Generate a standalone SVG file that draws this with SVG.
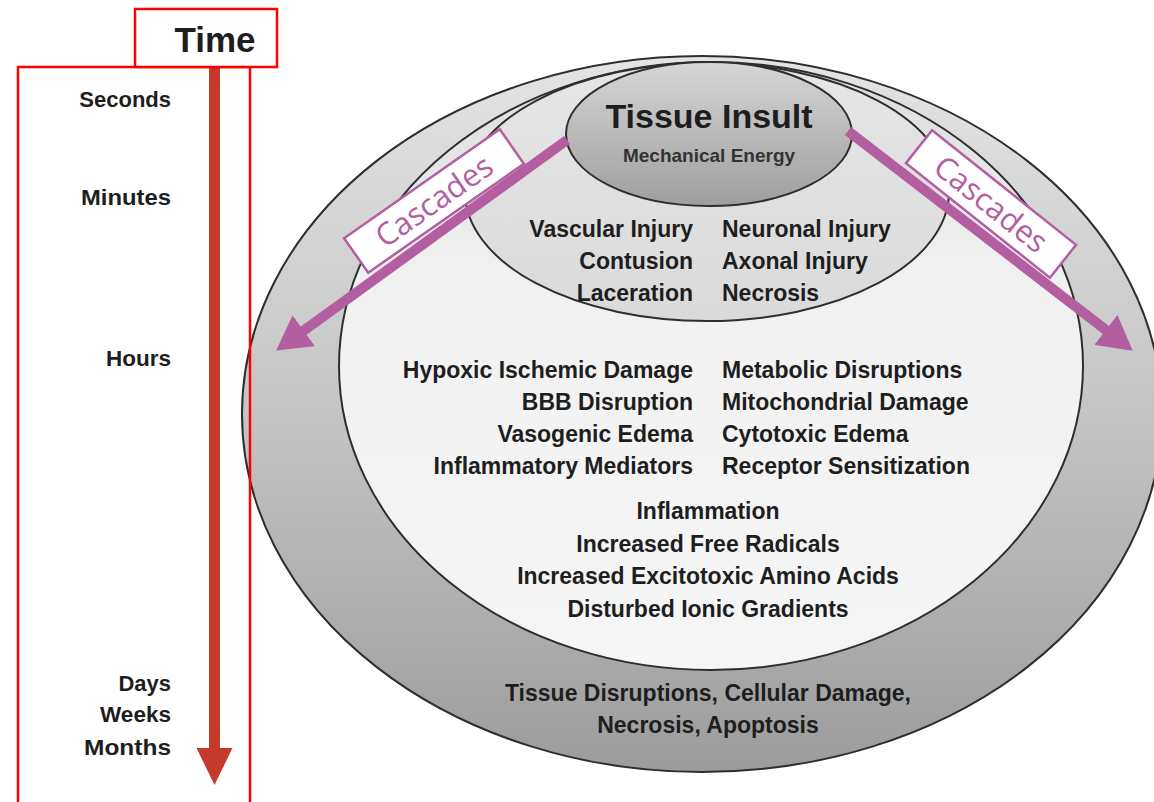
<svg xmlns="http://www.w3.org/2000/svg" width="1154" height="802" viewBox="0 0 1154 802">
<style>
.ring{stroke:#2e2e2e;stroke-width:2}
.t{font-family:"Liberation Sans",Arial,sans-serif;font-weight:bold;font-size:23px;fill:#1e1e1e}
.tl{font-family:"Liberation Sans",Arial,sans-serif;font-weight:bold;font-size:22px;fill:#1e1e1e;text-anchor:end}
.end{text-anchor:end}
.mid{text-anchor:middle}
.red{fill:none;stroke:#ff0000;stroke-width:2.5}
.casc{stroke:#b35ea0;stroke-width:10;fill:none}
.cbox{fill:#ffffff;stroke:#b35ea0;stroke-width:2.5}
.ctext{font-family:"Open Sans","Liberation Sans",sans-serif;font-size:31px;fill:#b35ea0;text-anchor:middle}
</style>
<defs>
<linearGradient id="gOuter" x1="0" y1="0" x2="0" y2="1">
<stop offset="0" stop-color="#e4e4e4"/>
<stop offset="0.5" stop-color="#c4c4c4"/>
<stop offset="1" stop-color="#9c9c9c"/>
</linearGradient>
<linearGradient id="gMid" x1="0" y1="0" x2="0" y2="1">
<stop offset="0" stop-color="#dcdcdc"/>
<stop offset="0.35" stop-color="#f1f1f1"/>
<stop offset="1" stop-color="#f6f6f6"/>
</linearGradient>
<linearGradient id="gInj" x1="0" y1="0" x2="0" y2="1">
<stop offset="0" stop-color="#e6e6e6"/>
<stop offset="1" stop-color="#dadada"/>
</linearGradient>
<linearGradient id="gIns" x1="0" y1="0" x2="0" y2="1">
<stop offset="0" stop-color="#d6d6d6"/>
<stop offset="1" stop-color="#9e9e9e"/>
</linearGradient>
<marker id="headP" markerUnits="userSpaceOnUse" markerWidth="34" markerHeight="38" viewBox="0 0 34 38" refX="3" refY="19" orient="auto">
<path d="M0,0 L34,19 L0,38 z" fill="#b35ea0"/>
</marker>
<marker id="headR" markerUnits="userSpaceOnUse" markerWidth="37" markerHeight="36" viewBox="0 0 37 36" refX="2" refY="18" orient="auto">
<path d="M0,0 L37,18 L0,36 z" fill="#c63a2b"/>
</marker>
</defs>

<g id="outer-ring">
<ellipse class="ring" cx="702" cy="414" rx="460" ry="358" fill="url(#gOuter)"/>
<text class="t mid" x="708" y="701">Tissue Disruptions, Cellular Damage,</text>
<text class="t mid" x="708" y="733">Necrosis, Apoptosis</text>
</g>

<g id="middle-ring">
<ellipse class="ring" cx="711" cy="366" rx="372" ry="304" fill="url(#gMid)"/>
<text class="t end" x="693" y="378">Hypoxic Ischemic Damage</text>
<text class="t end" x="693" y="410">BBB Disruption</text>
<text class="t end" x="693" y="442">Vasogenic Edema</text>
<text class="t end" x="693" y="474">Inflammatory Mediators</text>
<text class="t" x="722" y="378">Metabolic Disruptions</text>
<text class="t" x="722" y="410">Mitochondrial Damage</text>
<text class="t" x="722" y="442">Cytotoxic Edema</text>
<text class="t" x="722" y="474">Receptor Sensitization</text>
<text class="t mid" x="708" y="519">Inflammation</text>
<text class="t mid" x="708" y="552">Increased Free Radicals</text>
<text class="t mid" x="708" y="584">Increased Excitotoxic Amino Acids</text>
<text class="t mid" x="708" y="617">Disturbed Ionic Gradients</text>
</g>

<g id="injury-ellipse">
<ellipse class="ring" cx="707" cy="192" rx="242" ry="129" fill="url(#gInj)"/>
<text class="t end" x="693" y="237">Vascular Injury</text>
<text class="t end" x="693" y="269">Contusion</text>
<text class="t end" x="693" y="301">Laceration</text>
<text class="t" x="722" y="237">Neuronal Injury</text>
<text class="t" x="722" y="269">Axonal Injury</text>
<text class="t" x="722" y="301">Necrosis</text>
</g>

<g id="tissue-insult">
<ellipse class="ring" cx="709" cy="134" rx="143" ry="72" fill="url(#gIns)"/>
<text class="t mid" x="709" y="128" style="font-size:34px">Tissue Insult</text>
<text class="t mid" x="709" y="162" style="font-size:19px;fill:#333">Mechanical Energy</text>
</g>

<g id="connectors">
<line class="casc" x1="567" y1="140" x2="301.3" y2="332.4" marker-end="url(#headP)"/>
<line class="casc" x1="848" y1="131" x2="1108.2" y2="331.7" marker-end="url(#headP)"/>
<line x1="214.5" y1="67" x2="214.5" y2="750" stroke="#c63a2b" stroke-width="11" marker-end="url(#headR)"/>
</g>

<g id="cascades-left" transform="translate(434,201) rotate(-35)">
<rect class="cbox" x="-95" y="-21" width="190" height="42"/>
<text class="ctext" x="0" y="11">Cascades</text>
</g>

<g id="cascades-right" transform="translate(991,204) rotate(38.5)">
<rect class="cbox" x="-92" y="-21" width="184" height="42"/>
<text class="ctext" x="0" y="11">Cascades</text>
</g>

<g id="timeline">
<rect class="red" x="18" y="67" width="232" height="760"/>
<text class="tl" x="171" y="107">Seconds</text>
<text class="tl" x="171" y="205" textLength="90" lengthAdjust="spacingAndGlyphs">Minutes</text>
<text class="tl" x="171" y="366" textLength="65" lengthAdjust="spacingAndGlyphs">Hours</text>
<text class="tl" x="171" y="691">Days</text>
<text class="tl" x="171" y="722" textLength="71" lengthAdjust="spacingAndGlyphs">Weeks</text>
<text class="tl" x="171" y="755" textLength="87" lengthAdjust="spacingAndGlyphs">Months</text>
</g>

<g id="time-label">
<rect class="red" x="135" y="9" width="142" height="58" style="fill:#ffffff"/>
<text x="215" y="52" style="font-family:'Liberation Sans',Arial,sans-serif;font-weight:bold;font-size:35px;fill:#1e1e1e;text-anchor:middle">Time</text>
</g>
</svg>
